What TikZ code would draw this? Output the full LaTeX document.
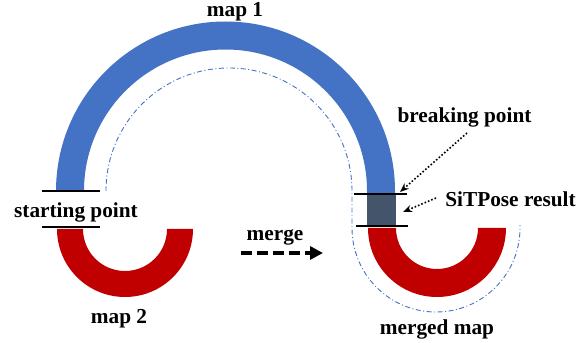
\documentclass[tikz,border=0pt]{standalone}
\usepackage{fontspec}
\setmainfont{Liberation Serif}
\usetikzlibrary{arrows.meta}
\definecolor{mapblue}{HTML}{4472C4}
\definecolor{mapred}{HTML}{C00000}
\definecolor{slate}{HTML}{44546A}
\tikzset{
  lbl/.style={font=\fontsize{21.3}{24}\selectfont\bfseries, inner sep=0pt, anchor=base},
  cut/.style={line width=2pt, black},
  pointer/.style={line width=1.6pt, dotted, -{Stealth[length=9pt,width=7pt]}},
  trace/.style={mapblue, line width=0.9pt, dash pattern=on 5pt off 2.5pt on 1pt off 2.5pt},
}
\begin{document}
\begin{tikzpicture}[x=1pt,y=1pt]
\useasboundingbox (0,0) rectangle (587,343);

% map 1: blue half ring
\fill[mapblue] (56,151) -- (56,152) arc[start angle=180,end angle=0,radius=169.5]
  -- (395,149) -- (367,149) -- (367,152) arc[start angle=0,end angle=180,radius=141.5]
  -- (84,151) -- cycle;

% map 2: red half ring
\fill[mapred] (57,114) arc[start angle=180,end angle=360,radius=68]
  -- (167,114) arc[start angle=0,end angle=-180,radius=42] -- cycle;

% merged map: red half ring below the SiTPose block
\fill[mapred] (368,115) arc[start angle=180,end angle=360,radius=69]
  -- (478,115) arc[start angle=0,end angle=-180,radius=41] -- cycle;

% SiTPose result block
\fill[slate] (367,117) rectangle (396,149);

% dash-dot trace of the merged map
\draw[trace] (106,156) -- (106,152) arc[start angle=180,end angle=0,radius=123]
  -- (352,115) arc[start angle=180,end angle=360,radius=84] -- (520,118);

% cut lines
\coordinate (sl1) at (42,152);  \coordinate (sr1) at (100,152);
\coordinate (sl2) at (42,116);  \coordinate (sr2) at (100,116);
\coordinate (bl1) at (354,149); \coordinate (br1) at (407,149);
\coordinate (bl2) at (356,117); \coordinate (br2) at (408,117);
\draw[cut] (sl1) -- (sr1);
\draw[cut] (sl2) -- (sr2);
\draw[cut] (bl1) -- (br1);
\draw[cut] (bl2) -- (br2);

% labels
\node[lbl] (m1) at (235,326) {map 1};
\node[lbl] (m2) at (119,19) {map 2};
\node[lbl] (sp) at (76,125) {starting point};
\node[lbl] (bp) at (464.5,220) {breaking point};
\node[lbl] (sr) at (510.5,136) {SiTPose result};
\node[lbl] (mg) at (275,102) {merge};
\node[lbl] (mm) at (437,9) {merged map};

% pointers
\coordinate (bpfrom) at (467,210);
\coordinate (bpto) at (400,151);
\coordinate (srfrom) at (436,145);
\coordinate (srto) at (403,131);
\draw[pointer] (bpfrom) -- (bpto);
\draw[pointer] (srfrom) -- (srto);

% merge arrow
\coordinate (ma) at (241,90);
\coordinate (mb) at (323,90);
\draw[line width=4.5pt, dash pattern=on 11pt off 5pt, -{Triangle[length=13pt,width=13pt]}] (ma) -- (mb);
\end{tikzpicture}
\end{document}
